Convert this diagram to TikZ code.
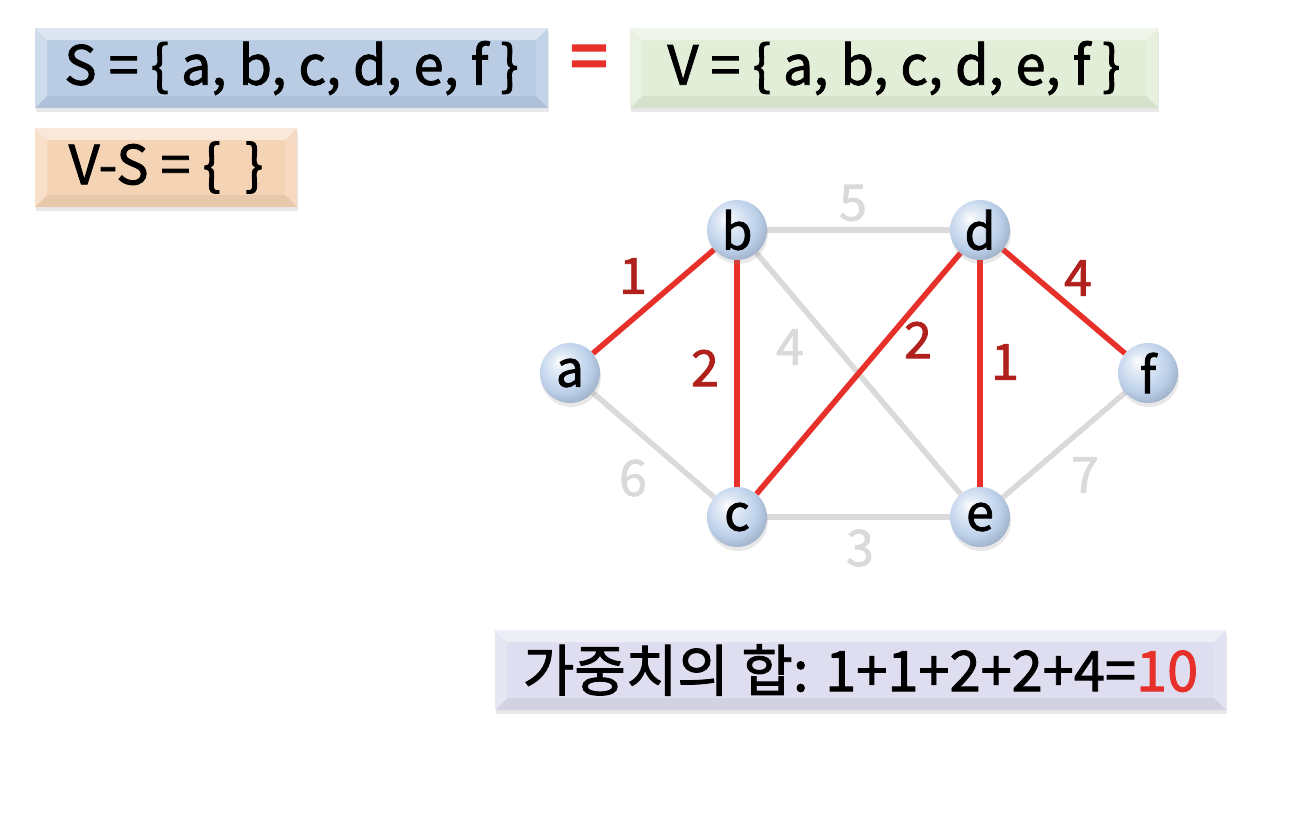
\documentclass[tikz,border=0pt]{standalone}
\usepackage{fontspec}
\setmainfont{Noto Sans CJK KR}[FakeBold=1.6]
\newfontfamily\eqfont{Noto Sans CJK KR}[FakeBold=4]
\usetikzlibrary{shadows}
\pgfdeclarelayer{bg}\pgfsetlayers{bg,main}
\definecolor{redE}{RGB}{232,48,42}
\definecolor{redL}{RGB}{176,32,28}
\definecolor{grayE}{RGB}{218,218,218}
\definecolor{boxS}{RGB}{185,204,228}
\definecolor{boxV}{RGB}{226,238,215}
\definecolor{boxVS}{RGB}{245,211,181}
\definecolor{boxW}{RGB}{222,222,240}
\definecolor{ballC}{RGB}{188,208,234}
\pgfdeclareradialshading{myball}{\pgfpoint{-9bp}{10bp}}{%
  color(0bp)=(white); color(7bp)=(ballC!40!white); color(22bp)=(ballC);
  color(32bp)=(ballC!82!black); color(50bp)=(ballC!80!black)}
\tikzset{
  bevel/.style={fill=#1, inner sep=0pt,
    drop shadow={shadow xshift=1pt, shadow yshift=-4pt, opacity=0.18},
    path picture={
      \fill[white,opacity=0.5] (path picture bounding box.north west) -- (path picture bounding box.north east)
        -- ([xshift=-12pt,yshift=-12pt]path picture bounding box.north east) -- ([xshift=12pt,yshift=-12pt]path picture bounding box.north west) -- cycle;
      \fill[white,opacity=0.3] (path picture bounding box.north west) -- ([xshift=12pt,yshift=-12pt]path picture bounding box.north west)
        -- ([xshift=12pt,yshift=12pt]path picture bounding box.south west) -- (path picture bounding box.south west) -- cycle;
      \fill[white,opacity=0.15] (path picture bounding box.north east) -- ([xshift=-12pt,yshift=-12pt]path picture bounding box.north east)
        -- ([xshift=-12pt,yshift=12pt]path picture bounding box.south east) -- (path picture bounding box.south east) -- cycle;
      \fill[black,opacity=0.05] (path picture bounding box.south west) -- ([xshift=12pt,yshift=12pt]path picture bounding box.south west)
        -- ([xshift=-12pt,yshift=12pt]path picture bounding box.south east) -- (path picture bounding box.south east) -- cycle;
    }},
  boxtext/.style={font=\fontsize{54}{58}\selectfont},
  vert/.style={circle, minimum size=60pt, inner sep=0pt, shading=myball,
    font=\fontsize{50}{54}\selectfont,
    drop shadow={shadow xshift=1pt, shadow yshift=-4pt, opacity=0.18}},
  redge/.style={draw=redE, line width=5.5pt},
  gedge/.style={draw=grayE, line width=5.5pt},
  rlab/.style={text=redL, font=\fontsize{50}{54}\selectfont},
  glab/.style={text=grayE, font=\fontsize{50}{54}\selectfont},
}
\begin{document}
\begin{tikzpicture}[x=1pt,y=-1pt]
\useasboundingbox (0,0) rectangle (1312,822);
% boxes
\node[bevel=boxS, boxtext, minimum width=513pt, minimum height=80pt] (S) at (291.5,68) {S = \{ a, b, c, d, e, f \}};
\node[text=redE, font=\fontsize{66}{70}\eqfont] (eq) at (589,63) {=};
\node[bevel=boxV, boxtext, minimum width=528pt, minimum height=80pt] (V) at (894,68) {V = \{ a, b, c, d, e, f \}};
\node[bevel=boxVS, boxtext, minimum width=262pt, minimum height=79pt] (VS) at (166,167.5) {V-S = \{\ \ \}};
\node[bevel=boxW, boxtext, font=\fontsize{56}{60}\selectfont, minimum width=731pt, minimum height=80pt] (W) at (860.5,670) {가중치의 합: 1+1+2+2+4=\textcolor{redE}{10}};
% vertices
\node[vert] (a) at (570,373) {a};
\node[vert] (b) at (737,230) {b};
\node[vert] (c) at (737,517) {c};
\node[vert] (d) at (980,230) {d};
\node[vert] (e) at (980,517) {e};
\node[vert] (f) at (1148,373) {f};
% edges
\begin{pgfonlayer}{bg}
\draw[gedge] (b) -- (d);
\draw[gedge] (b) -- (e);
\draw[gedge] (a) -- (c);
\draw[gedge] (c) -- (e);
\draw[gedge] (e) -- (f);
\draw[redge] (a) -- (b);
\draw[redge] (b) -- (c);
\draw[redge] (c) -- (d);
\draw[redge] (d) -- (e);
\draw[redge] (d) -- (f);
\end{pgfonlayer}
% labels
\node[rlab] (l1) at (633,276) {1};
\node[rlab] (l2) at (705,368) {2};
\node[glab] (l3) at (790,347) {4};
\node[glab] (l4) at (853,203) {5};
\node[rlab] (l5) at (918,340) {2};
\node[rlab] (l6) at (1005,362) {1};
\node[rlab] (l7) at (1078,278) {4};
\node[glab] (l8) at (633,478) {6};
\node[glab] (l9) at (860,548) {3};
\node[glab] (l10) at (1085,475) {7};
\end{tikzpicture}
\end{document}
